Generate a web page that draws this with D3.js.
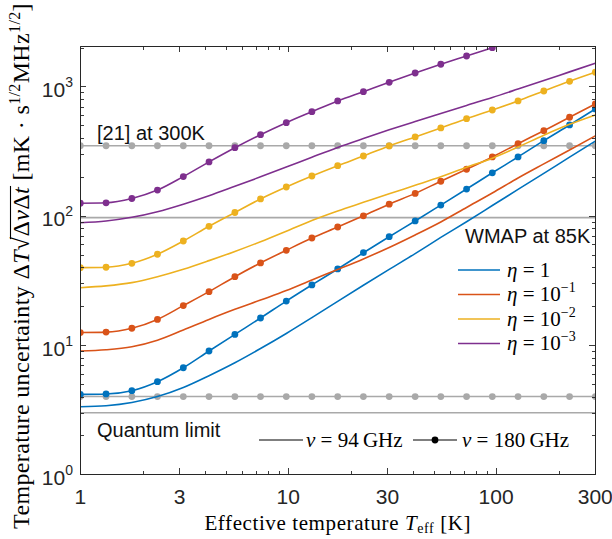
<!DOCTYPE html>
<html lang="en">
<head>
<meta charset="UTF-8">
<title>Temperature uncertainty vs effective temperature</title>
<script src="https://d3js.org/d3.v7.min.js"></script>
<style>
  body { margin: 0; background: #fff; }
  .axis path, .axis line { stroke: #262626; stroke-width: 0.9; shape-rendering: crispEdges; }
  .tick-label { font-family: "Liberation Sans", Arial, sans-serif; font-size: 21px; fill: #262626; }
  .tex { font-family: "Liberation Serif", "Times New Roman", serif; fill: #000; }
  .note { font-family: "Liberation Sans", Arial, sans-serif; font-size: 20px; fill: #111; }
</style>
</head>
<body>
<div id="chart"></div>
<script>
// effective temperature sample points (K), markers sit on these
const tEff = [1, 1.33, 1.77, 2.35, 3.13, 4.16, 5.54, 7.36, 9.79, 13.0, 17.3,
              23.0, 30.6, 40.8, 54.2, 72.1, 95.9, 127.5, 169.6, 225.6, 300];

// mK s^1/2 MHz^1/2
const eta1Nu94    = [3.34, 3.40, 3.60, 4.0, 4.70, 5.8, 7.3, 9.4, 12.3, 16.3, 21.8, 29, 38.5, 51, 68, 90, 120, 160, 213, 284, 378];
const eta1Nu180   = [4.16, 4.19, 4.44, 5.21, 6.68, 9.0, 12.1, 16.2, 21.9, 29.2, 38.8, 51.8, 68.9, 91.2, 121, 161, 215, 285, 381, 504, 670];
const eta01Nu94   = [9.0, 9.2, 9.7, 10.9, 13.1, 15.8, 18.9, 22.3, 26.4, 31.9, 38.4, 46.4, 56.9, 71.1, 89.6, 116, 150, 196, 252, 323, 415];
const eta01Nu180  = [12.5, 12.6, 13.5, 15.8, 20.2, 25.9, 33.8, 43.2, 54.1, 67.3, 81.9, 100, 123, 149, 185, 229, 285, 361, 455, 578, 732];
const eta001Nu94  = [27.8, 28.7, 30.4, 33.8, 38.6, 45, 53, 63, 76, 92, 109, 127, 148, 172, 200, 237, 279, 340, 420, 510, 603];
const eta001Nu180 = [39.7, 40.0, 42.9, 50.4, 63.8, 82.9, 106, 135, 167, 203, 244, 290, 347, 407, 478, 564, 658, 773, 923, 1097, 1288];
const eta0001Nu94 = [88.4, 91.2, 97.3, 107.6, 123, 143, 169, 200, 238, 284, 338, 396, 462, 536, 619, 714, 822, 955, 1112, 1297, 1512];
const eta0001Nu180 = [125, 126, 136, 158, 201, 261, 336, 424, 525, 638, 773, 912, 1077, 1271, 1485, 1721, 1995];

// horizontal reference levels
const quantum94 = 3.0, quantum180 = 4.0, wmap85 = 96.7, ref21 = 348;

const etaLabels = ["1", "\u22121", "\u22122", "\u22123"];
const colors = ["#0072BD", "#D95319", "#EDB120", "#7E2F8E"];
const series = [
  {nu94: eta1Nu94, nu180: eta1Nu180},
  {nu94: eta01Nu94, nu180: eta01Nu180},
  {nu94: eta001Nu94, nu180: eta001Nu180},
  {nu94: eta0001Nu94, nu180: eta0001Nu180}
];

const xMajor = [1, 3, 10, 30, 100, 300];
const xMinor = [2, 4, 5, 6, 7, 8, 9, 20, 40, 50, 60, 70, 80, 90, 200];
const yMajor = [1, 10, 100, 1000];
const yMinor = [2, 3, 4, 5, 6, 7, 8, 9, 20, 30, 40, 50, 60, 70, 80, 90,
                200, 300, 400, 500, 600, 700, 800, 900, 2000];

const width = 612, height = 539;
const plot = {left: 80.3, right: 595.3, top: 46, bottom: 474.4};

const svg = d3.select("#chart").append("svg")
    .attr("width", width).attr("height", height);

const x = d3.scaleLog().domain([1, 300]).range([plot.left, plot.right]);
const y = d3.scaleLog().domain([1, 2056]).range([plot.bottom, plot.top]);

svg.append("clipPath").attr("id", "clip")
  .append("rect")
    .attr("x", plot.left).attr("y", plot.top)
    .attr("width", plot.right - plot.left).attr("height", plot.bottom - plot.top);

const g = svg.append("g").attr("clip-path", "url(#clip)");

const line = d3.line()
    .x((d, i) => x(tEff[i]))
    .y(d => y(d))
    .curve(d3.curveMonotoneX);

function drawSeries(values, color, withMarkers) {
  g.append("path")
      .datum(values)
      .attr("fill", "none")
      .attr("stroke", color)
      .attr("stroke-width", 1.6)
      .attr("d", line);
  if (withMarkers) {
    g.selectAll(null)
      .data(values)
      .enter()
      .append("circle")
        .attr("cx", (d, i) => x(tEff[i]))
        .attr("cy", d => y(d))
        .attr("r", 3.4)
        .attr("fill", color);
  }
}

// gray reference lines first, curves go on top
const gray = "#A9A9A9";
drawSeries(tEff.map(() => quantum94), gray, false);
drawSeries(tEff.map(() => quantum180), gray, true);
drawSeries(tEff.map(() => wmap85), gray, false);
drawSeries(tEff.map(() => ref21), gray, true);

series.forEach((s, k) => {
  drawSeries(s.nu94, colors[k], false);
  drawSeries(s.nu180, colors[k], true);
});

// axes: ticks point inward on all four sides
function axis(gen, values, size, transform) {
  svg.append("g")
      .attr("class", "axis")
      .attr("transform", transform)
      .call(gen.tickValues(values).tickSizeInner(size).tickSizeOuter(0).tickFormat(""));
}
axis(d3.axisBottom(x), xMajor, -6, `translate(0,${plot.bottom})`);
axis(d3.axisBottom(x), xMinor, -3.5, `translate(0,${plot.bottom})`);
axis(d3.axisTop(x), xMajor, -6, `translate(0,${plot.top})`);
axis(d3.axisTop(x), xMinor, -3.5, `translate(0,${plot.top})`);
axis(d3.axisLeft(y), yMajor, -6, `translate(${plot.left},0)`);
axis(d3.axisLeft(y), yMinor, -3.5, `translate(${plot.left},0)`);
axis(d3.axisRight(y), yMajor, -6, `translate(${plot.right},0)`);
axis(d3.axisRight(y), yMinor, -3.5, `translate(${plot.right},0)`);

// tick labels
svg.selectAll(".xlab")
  .data(xMajor)
  .enter()
  .append("text")
    .attr("class", "tick-label")
    .attr("x", d => x(d))
    .attr("y", 504)
    .attr("text-anchor", "middle")
    .text(d => d);

const ylab = svg.selectAll(".ylab")
  .data(yMajor)
  .enter()
  .append("text")
    .attr("class", "tick-label")
    .attr("x", 73)
    .attr("y", d => y(d) + 10.5)
    .attr("text-anchor", "end");
ylab.append("tspan").text("10");
ylab.append("tspan")
    .attr("dy", -10)
    .style("font-size", "14px")
    .text(d => Math.round(Math.log10(d)));

// axis titles
svg.append("text")
    .attr("class", "tex")
    .attr("x", (plot.left + plot.right) / 2)
    .attr("y", 530)
    .attr("text-anchor", "middle")
    .style("font-size", "21px")
    .style("letter-spacing", "0.6px")
    .call(t => {
      t.append("tspan").text("Effective temperature ");
      t.append("tspan").style("font-style", "italic").text("T");
      t.append("tspan").attr("dy", 3).style("font-size", "14px").text("eff");
      t.append("tspan").attr("dy", -3).text(" [K]");
    });

const yTitle = svg.append("text")
    .attr("class", "tex")
    .attr("transform", "translate(29,266) rotate(-90)")
    .attr("text-anchor", "middle")
    .style("font-size", "24px")
    .style("letter-spacing", "0.35px");
yTitle.append("tspan").text("Temperature uncertainty \u0394");
yTitle.append("tspan").style("font-style", "italic").text("T");
yTitle.append("tspan").text("\u221A\u0394");
yTitle.append("tspan").style("font-style", "italic").text("\u03BD");
yTitle.append("tspan").text("\u0394");
yTitle.append("tspan").style("font-style", "italic").text("t");
yTitle.append("tspan").text(" [mK \u00B7 s");
yTitle.append("tspan").attr("dy", -9).style("font-size", "16px").text("1/2");
yTitle.append("tspan").attr("dy", 9).text("MHz");
yTitle.append("tspan").attr("dy", -9).style("font-size", "16px").text("1/2");
yTitle.append("tspan").attr("dy", 9).text("]");

// radical bar over the square root argument
{
  const node = yTitle.node();
  const full = node.textContent;
  const i0 = full.indexOf("\u221A");
  const p0 = node.getStartPositionOfChar(i0);
  const p1 = node.getEndPositionOfChar(i0 + 4);
  svg.append("line")
      .attr("transform", "translate(29,266) rotate(-90)")
      .attr("x1", p0.x + 11).attr("x2", p1.x + 1)
      .attr("y1", -18.5).attr("y2", -18.5)
      .attr("stroke", "#000").attr("stroke-width", 1.1);
}

// in-plot labels
svg.append("text").attr("class", "note").attr("x", 97).attr("y", 140).text("[21] at 300K");
svg.append("text").attr("class", "note").attr("x", 465).attr("y", 243).text("WMAP at 85K");
svg.append("text").attr("class", "note").attr("x", 97).attr("y", 437).text("Quantum limit");

// legend for efficiency
const legendY = [270, 294.5, 319, 343.5];
etaLabels.forEach((lab, k) => {
  svg.append("line")
      .attr("x1", 458).attr("x2", 500)
      .attr("y1", legendY[k]).attr("y2", legendY[k])
      .attr("stroke", colors[k]).attr("stroke-width", 1.6);
  const t = svg.append("text").attr("class", "tex")
      .attr("x", 507).attr("y", legendY[k] + 6.5)
      .style("font-size", "21px");
  t.append("tspan").style("font-style", "italic").text("\u03B7");
  if (k === 0) {
    t.append("tspan").text(" = 1");
  } else {
    t.append("tspan").text(" = 10");
    t.append("tspan").attr("dy", -9).style("font-size", "14px").text(lab);
  }
});

// legend for frequency
const nuY = 440;
svg.append("line").attr("x1", 259).attr("x2", 303).attr("y1", nuY).attr("y2", nuY)
    .attr("stroke", "#555").attr("stroke-width", 1.4);
svg.append("line").attr("x1", 413).attr("x2", 457).attr("y1", nuY).attr("y2", nuY)
    .attr("stroke", "#555").attr("stroke-width", 1.4);
svg.append("circle").attr("cx", 435).attr("cy", nuY).attr("r", 3.4).attr("fill", "#000");
[[306, "94"], [462, "180"]].forEach(([px, f]) => {
  const t = svg.append("text").attr("class", "tex")
      .attr("x", px).attr("y", nuY + 6.5).style("font-size", "21px");
  t.append("tspan").style("font-style", "italic").text("\u03BD");
  t.append("tspan").text(" = " + f + "\u2009GHz");
});
</script>
</body>
</html>
